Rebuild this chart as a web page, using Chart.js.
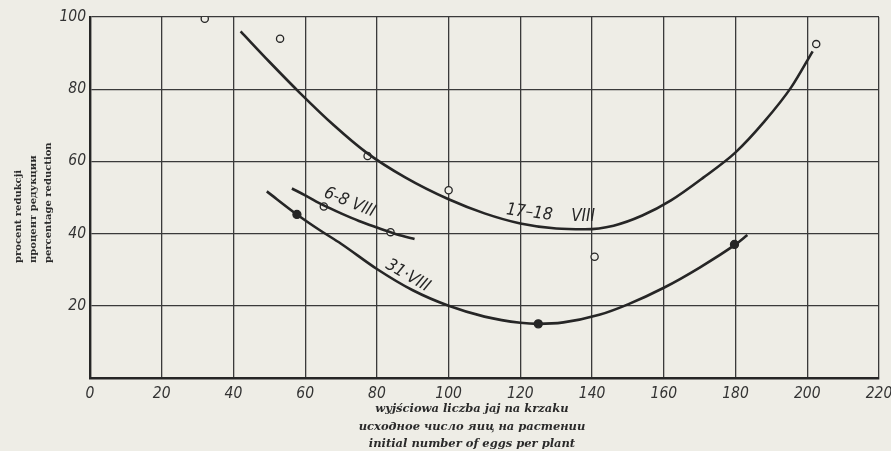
<!DOCTYPE html>
<html>
<head>
<meta charset="utf-8">
<script src="https://cdn.jsdelivr.net/npm/chart.js@4"></script>
<style>
  html, body { margin: 0; padding: 0; background: #eeede6; }
  #wrap { position: relative; width: 891px; height: 451px; }
  .ytitle {
    position: absolute; left: 10px; top: 263px;
    transform-origin: 0 0; transform: rotate(-90deg);
    white-space: pre;
    font: bold 10px "DejaVu Serif", serif; color: #2a2a2a;
    line-height: 15px;
  }
  .xtitle {
    position: absolute; left: 272px; top: 400px; width: 400px;
    text-align: center; white-space: pre;
    font: italic bold 11.5px "DejaVu Serif", serif; color: #2a2a2a;
    line-height: 17.5px;
  }
</style>
</head>
<body>
<div id="wrap">
  <canvas id="chart" width="891" height="451"></canvas>
  <div class="ytitle">procent redukcji
процент редукции
percentage reduction</div>
  <div class="xtitle">wyjściowa liczba jaj na krzaku
исходное число яиц на растении
initial number of eggs per plant</div>
</div>
<script>
// curve 17-18 VIII
const c1718_x = [42, 50, 58.5, 68, 77, 88, 100, 110, 120, 130, 138, 146, 154, 162, 171, 180, 188, 195.5, 201.5];
const c1718_y = [96, 87.6, 79, 70, 62.5, 55.5, 49.5, 45.6, 42.8, 41.4, 41.2, 42.2, 45, 49.2, 55.5, 62.5, 71, 80.5, 90.5];
// curve 6-8 VIII
const c68_x = [56.3, 60, 65.2, 70, 75, 80, 83.8, 87, 90.5];
const c68_y = [52.5, 50.6, 47.8, 45.6, 43.5, 41.7, 40.4, 39.4, 38.5];
// curve 31 VIII
const c31_x = [49.3, 57.7, 64, 70, 80, 90, 100, 110, 120, 125, 132, 142, 150, 160, 170, 180, 183.3];
const c31_y = [51.7, 45.3, 41, 37.2, 30.2, 24.3, 20, 17, 15.3, 15, 15.4, 17.5, 20.4, 25, 30.6, 37, 39.6];

// measured points
const open1718_x = [32, 53, 77.4, 100, 140.7, 202.5];
const open1718_y = [99.5, 94, 61.5, 52, 33.6, 92.5];
const open68_x = [65.2, 83.8];
const open68_y = [47.5, 40.4];
const dots31_x = [57.7, 125, 179.7];
const dots31_y = [45.3, 15, 37];

// curve labels: text, x, y, angle (deg)
const curveLabels = [
  ['17\u201318', 122.5, 45.8, 7],
  ['VIII', 137.5, 44.7, 0],
  ['6-8 VIII', 72.4, 48.6, 22],
  ['31\u00b7VIII', 88.6, 28.3, 30]
];

const xTicks = [0, 20, 40, 60, 80, 100, 120, 140, 160, 180, 200, 220];
const yTicks = [20, 40, 60, 80, 100];

const ink = '#262626';
const paper = '#eeede6';
const narrow = '"DejaVu Sans Condensed", "DejaVu Sans", sans-serif';

function pts(xs, ys) {
  return xs.map((x, i) => ({ x: x, y: ys[i] }));
}

function curve(xs, ys) {
  return {
    data: pts(xs, ys),
    showLine: true,
    borderColor: ink,
    borderWidth: 2.6,
    pointRadius: 0,
    cubicInterpolationMode: 'monotone',
    fill: false
  };
}

function marks(xs, ys, filled) {
  return {
    data: pts(xs, ys),
    showLine: false,
    pointRadius: filled ? 4 : 3.6,
    pointBorderWidth: 1.3,
    pointBorderColor: ink,
    pointBackgroundColor: filled ? ink : paper
  };
}

const labelPlugin = {
  id: 'curveLabels',
  afterDatasetsDraw(chart) {
    const ctx = chart.ctx;
    const xs = chart.scales.x, ys = chart.scales.y;
    ctx.save();
    ctx.fillStyle = ink;
    ctx.font = 'italic 17px ' + narrow;
    ctx.textAlign = 'center';
    ctx.textBaseline = 'middle';
    curveLabels.forEach(l => {
      ctx.save();
      ctx.translate(xs.getPixelForValue(l[1]), ys.getPixelForValue(l[2]));
      ctx.rotate(l[3] * Math.PI / 180);
      ctx.fillText(l[0], 0, 0);
      ctx.restore();
    });
    ctx.restore();
  }
};

const bgPlugin = {
  id: 'bg',
  beforeDraw(chart) {
    const ctx = chart.ctx;
    ctx.save();
    ctx.fillStyle = paper;
    ctx.fillRect(0, 0, chart.width, chart.height);
    ctx.restore();
  }
};

const tickFont = { family: narrow, size: 15.5, style: 'italic' };

const ctx = document.getElementById('chart').getContext('2d');
const myChart = new Chart(ctx, {
  type: 'scatter',
  data: {
    datasets: [
      curve(c1718_x, c1718_y),
      curve(c68_x, c68_y),
      curve(c31_x, c31_y),
      marks(open1718_x, open1718_y, false),
      marks(open68_x, open68_y, false),
      marks(dots31_x, dots31_y, true)
    ]
  },
  options: {
    responsive: false,
    animation: false,
    layout: { padding: { top: 17, right: 12, left: 0, bottom: 0 } },
    plugins: {
      legend: { display: false },
      tooltip: { enabled: false }
    },
    scales: {
      x: {
        type: 'linear',
        min: 0,
        max: 220,
        afterBuildTicks: s => { s.ticks = xTicks.map(v => ({ value: v })); },
        afterFit: s => { s.height = 73; s.paddingLeft = 0; s.paddingRight = 0; },
        grid: { color: '#3a3a3a', lineWidth: 1.3, drawTicks: false },
        border: { color: ink, width: 2.4 },
        ticks: { color: '#333', font: tickFont, padding: 7 }
      },
      y: {
        type: 'linear',
        min: 0,
        max: 100,
        afterBuildTicks: s => { s.ticks = yTicks.map(v => ({ value: v })); },
        afterFit: s => { s.width = 90; s.paddingTop = 0; s.paddingBottom = 0; },
        grid: { color: '#3a3a3a', lineWidth: 1.3, drawTicks: false },
        border: { color: ink, width: 2.4 },
        ticks: { color: '#333', font: tickFont, padding: 4 }
      }
    }
  },
  plugins: [bgPlugin, labelPlugin]
});
</script>
</body>
</html>
